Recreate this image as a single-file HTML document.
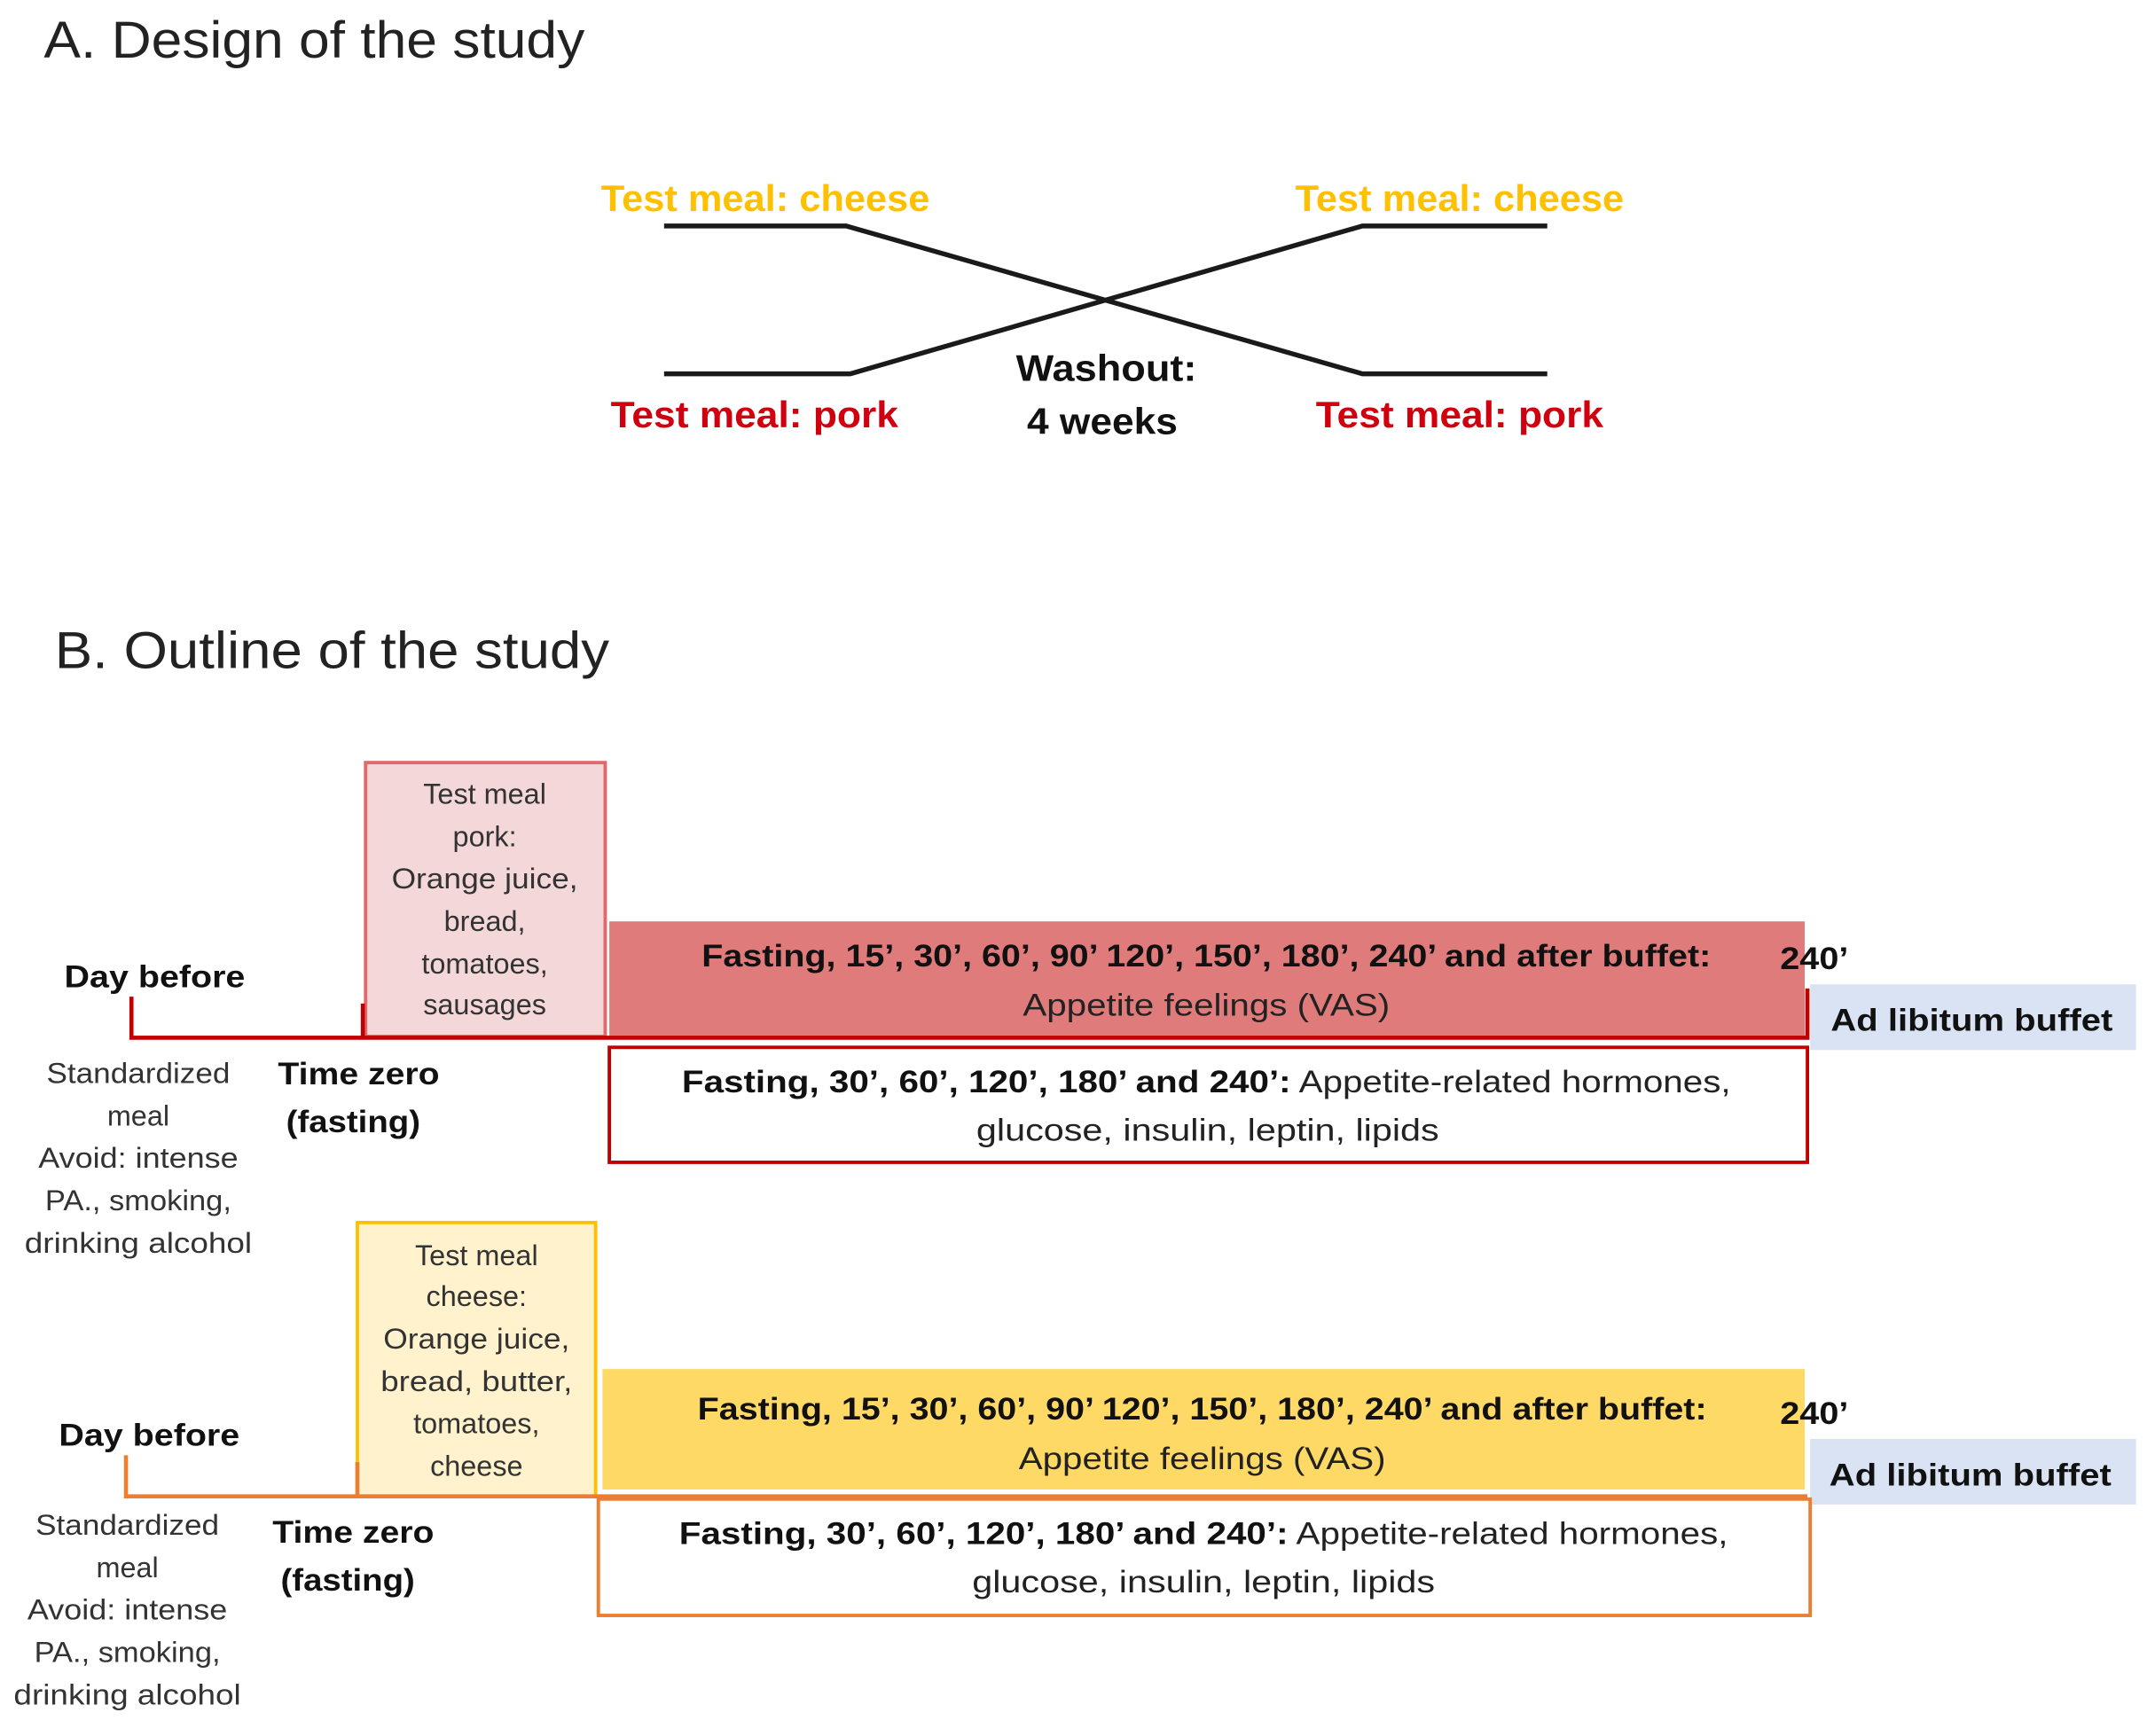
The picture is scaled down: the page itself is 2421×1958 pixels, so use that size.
<!DOCTYPE html>
<html><head><meta charset="utf-8"><style>
html,body{margin:0;padding:0;background:#fff;}
svg{display:block;}
text{font-family:"Liberation Sans",sans-serif;}
</style></head><body>
<svg width="2421" height="1958" viewBox="0 0 1568 1268" xmlns="http://www.w3.org/2000/svg">
<!-- A -->
<text x="32" y="42" font-size="38" fill="#222" textLength="395" lengthAdjust="spacingAndGlyphs">A. Design of the study</text>
<text x="559" y="154" font-size="27" font-weight="bold" fill="#FFC000" text-anchor="middle" textLength="240" lengthAdjust="spacingAndGlyphs">Test meal: cheese</text>
<text x="1066" y="154" font-size="27" font-weight="bold" fill="#FFC000" text-anchor="middle" textLength="240" lengthAdjust="spacingAndGlyphs">Test meal: cheese</text>
<text x="551" y="312" font-size="27" font-weight="bold" fill="#D0000F" text-anchor="middle" textLength="210" lengthAdjust="spacingAndGlyphs">Test meal: pork</text>
<text x="1066" y="312" font-size="27" font-weight="bold" fill="#D0000F" text-anchor="middle" textLength="210" lengthAdjust="spacingAndGlyphs">Test meal: pork</text>
<text x="808" y="278" font-size="27" font-weight="bold" fill="#111" text-anchor="middle" textLength="132" lengthAdjust="spacingAndGlyphs">Washout:</text>
<text x="805" y="317" font-size="27" font-weight="bold" fill="#111" text-anchor="middle" textLength="110" lengthAdjust="spacingAndGlyphs">4 weeks</text>
<g stroke="#1a1a1a" stroke-width="3.5" fill="none">
<polyline points="485,165 618,165 995,273 1130,273"/>
<polyline points="485,273 621,273 995,165 1130,165"/>
</g>
<!-- B -->
<text x="40" y="488" font-size="38" fill="#222" textLength="405" lengthAdjust="spacingAndGlyphs">B. Outline of the study</text>

<!-- Pork section -->
<rect x="267" y="557" width="175" height="200" fill="#F4D7D8" stroke="#E06A6A" stroke-width="2.5"/>
<g font-size="21" fill="#333" text-anchor="middle">
<text x="354" y="587">Test meal</text>
<text x="354" y="618">pork:</text>
<text x="354" y="649" textLength="136" lengthAdjust="spacingAndGlyphs">Orange juice,</text>
<text x="354" y="680">bread,</text>
<text x="354" y="711">tomatoes,</text>
<text x="354" y="741">sausages</text>
</g>
<rect x="445" y="673" width="873" height="84" fill="#E07B7B"/>
<text x="881" y="706" font-size="23" font-weight="bold" fill="#111" text-anchor="middle" textLength="737" lengthAdjust="spacingAndGlyphs">Fasting, 15’, 30’, 60’, 90’ 120’, 150’, 180’, 240’ and after buffet:</text>
<text x="881" y="742" font-size="23" fill="#222" text-anchor="middle" textLength="268" lengthAdjust="spacingAndGlyphs">Appetite feelings (VAS)</text>
<text x="1300" y="708" font-size="23" font-weight="bold" fill="#111" textLength="50" lengthAdjust="spacingAndGlyphs">240’</text>
<rect x="1322" y="719" width="238" height="48" fill="#DAE3F3"/>
<text x="1440" y="753" font-size="23" font-weight="bold" fill="#111" text-anchor="middle" textLength="206" lengthAdjust="spacingAndGlyphs">Ad libitum buffet</text>
<g stroke="#C00000" stroke-width="3" fill="none">
<polyline points="96,728 96,758 1320,758 1320,722"/>
<line x1="265" y1="733" x2="265" y2="758"/>
</g>
<text x="47" y="721" font-size="23" font-weight="bold" fill="#111" textLength="132" lengthAdjust="spacingAndGlyphs">Day before</text>
<g font-size="21" fill="#333" text-anchor="middle">
<text x="101" y="791" textLength="134" lengthAdjust="spacingAndGlyphs">Standardized</text>
<text x="101" y="822">meal</text>
<text x="101" y="853" textLength="146" lengthAdjust="spacingAndGlyphs">Avoid: intense</text>
<text x="101" y="884" textLength="136" lengthAdjust="spacingAndGlyphs">PA., smoking,</text>
<text x="101" y="915" textLength="166" lengthAdjust="spacingAndGlyphs">drinking alcohol</text>
</g>
<text x="262" y="792" font-size="23" font-weight="bold" fill="#111" text-anchor="middle" textLength="118" lengthAdjust="spacingAndGlyphs">Time zero</text>
<text x="258" y="827" font-size="23" font-weight="bold" fill="#111" text-anchor="middle" textLength="98" lengthAdjust="spacingAndGlyphs">(fasting)</text>
<rect x="445" y="765" width="875" height="84" fill="#fff" stroke="#C00000" stroke-width="2.5"/>
<text x="881" y="798" font-size="23" fill="#222" text-anchor="middle" textLength="766" lengthAdjust="spacingAndGlyphs"><tspan font-weight="bold" fill="#111">Fasting, 30’, 60’, 120’, 180’ and 240’:</tspan> Appetite-related hormones,</text>
<text x="882" y="833" font-size="23" fill="#222" text-anchor="middle" textLength="338" lengthAdjust="spacingAndGlyphs">glucose, insulin, leptin, lipids</text>

<!-- Cheese section -->
<rect x="261" y="893" width="174" height="200" fill="#FFF2CC" stroke="#FFC000" stroke-width="2.5"/>
<g font-size="21" fill="#333" text-anchor="middle">
<text x="348" y="924">Test meal</text>
<text x="348" y="954">cheese:</text>
<text x="348" y="985" textLength="136" lengthAdjust="spacingAndGlyphs">Orange juice,</text>
<text x="348" y="1016" textLength="140" lengthAdjust="spacingAndGlyphs">bread, butter,</text>
<text x="348" y="1047">tomatoes,</text>
<text x="348" y="1078">cheese</text>
</g>
<rect x="440" y="1000" width="878" height="88" fill="#FFD966"/>
<text x="878" y="1037" font-size="23" font-weight="bold" fill="#111" text-anchor="middle" textLength="737" lengthAdjust="spacingAndGlyphs">Fasting, 15’, 30’, 60’, 90’ 120’, 150’, 180’, 240’ and after buffet:</text>
<text x="878" y="1073" font-size="23" fill="#222" text-anchor="middle" textLength="268" lengthAdjust="spacingAndGlyphs">Appetite feelings (VAS)</text>
<text x="1300" y="1040" font-size="23" font-weight="bold" fill="#111" textLength="50" lengthAdjust="spacingAndGlyphs">240’</text>
<rect x="1322" y="1051" width="238" height="48" fill="#DAE3F3"/>
<text x="1439" y="1085" font-size="23" font-weight="bold" fill="#111" text-anchor="middle" textLength="206" lengthAdjust="spacingAndGlyphs">Ad libitum buffet</text>
<g stroke="#ED7D31" stroke-width="3" fill="none">
<polyline points="92,1063 92,1093 1320,1093"/>
<line x1="261" y1="1068" x2="261" y2="1093"/>
</g>
<text x="43" y="1056" font-size="23" font-weight="bold" fill="#111" textLength="132" lengthAdjust="spacingAndGlyphs">Day before</text>
<g font-size="21" fill="#333" text-anchor="middle">
<text x="93" y="1121" textLength="134" lengthAdjust="spacingAndGlyphs">Standardized</text>
<text x="93" y="1152">meal</text>
<text x="93" y="1183" textLength="146" lengthAdjust="spacingAndGlyphs">Avoid: intense</text>
<text x="93" y="1214" textLength="136" lengthAdjust="spacingAndGlyphs">PA., smoking,</text>
<text x="93" y="1245" textLength="166" lengthAdjust="spacingAndGlyphs">drinking alcohol</text>
</g>
<text x="258" y="1127" font-size="23" font-weight="bold" fill="#111" text-anchor="middle" textLength="118" lengthAdjust="spacingAndGlyphs">Time zero</text>
<text x="254" y="1162" font-size="23" font-weight="bold" fill="#111" text-anchor="middle" textLength="98" lengthAdjust="spacingAndGlyphs">(fasting)</text>
<rect x="437" y="1095" width="885" height="85" fill="#fff" stroke="#ED7D31" stroke-width="2.5"/>
<text x="879" y="1128" font-size="23" fill="#222" text-anchor="middle" textLength="766" lengthAdjust="spacingAndGlyphs"><tspan font-weight="bold" fill="#111">Fasting, 30’, 60’, 120’, 180’ and 240’:</tspan> Appetite-related hormones,</text>
<text x="879" y="1163" font-size="23" fill="#222" text-anchor="middle" textLength="338" lengthAdjust="spacingAndGlyphs">glucose, insulin, leptin, lipids</text>
</svg>
</body></html>
